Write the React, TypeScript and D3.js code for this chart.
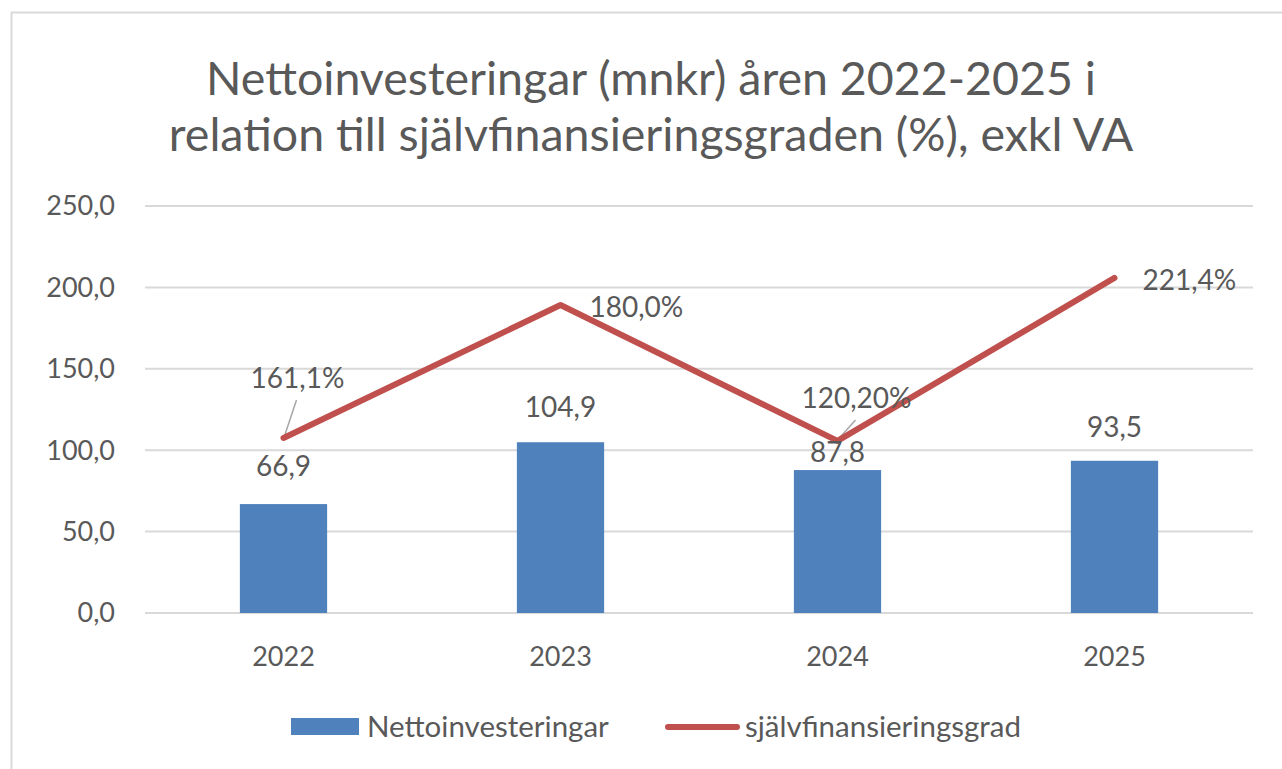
import { scaleBand, scaleLinear, line } from 'd3';

const years = ['2022', '2023', '2024', '2025'];
const nettoinvesteringar = [66.9, 104.9, 87.8, 93.5];
// line is drawn on the primary axis at these heights, the labels are typed text
const sjalvfinansiering = [107.5, 189.2, 105.7, 205.8];
const sjalvLabels = ['161,1%', '180,0%', '120,20%', '221,4%'];
const yTicks = [0, 50, 100, 150, 200, 250];
const titleLines = [
  'Nettoinvesteringar (mnkr) åren 2022-2025 i',
  'relation till självfinansieringsgraden (%), exkl VA',
];
const legendNames = ['Nettoinvesteringar', 'självfinansieringsgrad'];

const width = 1282;
const height = 769;
const margin = { left: 145, right: 29, top: 206, bottom: 156 };

const BLUE = '#4F81BD';
const RED = '#C0504D';
const TEXT = '#595959';
const GRID = '#D9D9D9';
const FONT = 'Lato, "Open Sans", sans-serif';

// label nudges (Excel-ish manual placement)
const barLabelDy = [-38, -35, -18, -34];
const lineLabelOff = [
  { dx: 14, dy: -60, anchor: 'middle', leader: true },
  { dx: 29, dy: 2, anchor: 'start', leader: false },
  { dx: 19, dy: -43, anchor: 'middle', leader: true },
  { dx: 28, dy: 2, anchor: 'start', leader: false },
];

const x = scaleBand().domain(years).range([margin.left, width - margin.right]).padding(0);
const y = scaleLinear().domain([0, 250]).range([height - margin.bottom, margin.top]);

const barW = x.bandwidth() * 0.315;
const cx = (d: string) => (x(d) as number) + x.bandwidth() / 2;

const linePath = line<number>()
  .x((_, i) => cx(years[i]))
  .y((d) => y(d));

const fmt = (v: number) => v.toFixed(1).replace('.', ',');

const App = () => {
  return (
    <div style={{ position: 'absolute', left: 0, top: 0 }}>
      <svg width={width} height={height} style={{ display: 'block', background: '#fff' }}>
        {/* chart border */}
        <path d={`M11.5,${height} V12.5 H${width}`} fill="none" stroke={GRID} strokeWidth={2} />

        {/* title */}
        {titleLines.map((t, i) => (
          <text key={i} x={651} y={95 + i * 56} textAnchor="middle" fontFamily={FONT}
            fontSize={46.5} fill={TEXT}>{t}</text>
        ))}

        {/* gridlines and y ticks */}
        {yTicks.map((t) => (
          <g key={t}>
            <line x1={margin.left} x2={width - margin.right} y1={y(t)} y2={y(t)}
              stroke={GRID} strokeWidth={2} />
            <text x={115} y={y(t)} dy="0.35em" textAnchor="end" fontFamily={FONT}
              fontSize={27} fill={TEXT}>{fmt(t)}</text>
          </g>
        ))}

        {/* bars */}
        {nettoinvesteringar.map((v, i) => (
          <rect key={i} x={cx(years[i]) - barW / 2} y={y(v)} width={barW}
            height={y(0) - y(v)} fill={BLUE} />
        ))}

        {/* x labels */}
        {years.map((d) => (
          <text key={d} x={cx(d)} y={657} dy="0.35em" textAnchor="middle"
            fontFamily={FONT} fontSize={27} fill={TEXT}>{d}</text>
        ))}

        {/* leader lines */}
        {sjalvfinansiering.map((v, i) => {
          const o = lineLabelOff[i];
          if (!o.leader) return null;
          const px = cx(years[i]);
          const py = y(v);
          return (
            <line key={i} x1={px + o.dx - 1} y1={py + o.dy + 22} x2={px + 1} y2={py - 2}
              stroke="#A6A6A6" strokeWidth={1.5} />
          );
        })}

        {/* line */}
        <path d={linePath(sjalvfinansiering) || ''} fill="none" stroke={RED}
          strokeWidth={6} strokeLinejoin="round" strokeLinecap="round" />

        {/* bar labels */}
        {nettoinvesteringar.map((v, i) => (
          <text key={i} x={cx(years[i])} y={y(v) + barLabelDy[i]} dy="0.35em"
            textAnchor="middle" fontFamily={FONT} fontSize={28} fill={TEXT}>{fmt(v)}</text>
        ))}

        {/* line labels */}
        {sjalvfinansiering.map((v, i) => {
          const o = lineLabelOff[i];
          return (
            <text key={i} x={cx(years[i]) + o.dx} y={y(v) + o.dy} dy="0.35em"
              textAnchor={o.anchor as any} fontFamily={FONT} fontSize={28} fill={TEXT}>
              {sjalvLabels[i]}
            </text>
          );
        })}

        {/* legend */}
        <g fontFamily={FONT} fontSize={29.5} fill={TEXT}>
          <rect x={291} y={718} width={68} height={17} fill={BLUE} />
          <text x={367} y={727} dy="0.35em">{legendNames[0]}</text>
          <line x1={668} x2={737} y1={727} y2={727} stroke={RED} strokeWidth={6}
            strokeLinecap="round" />
          <text x={745} y={727} dy="0.35em">{legendNames[1]}</text>
        </g>
      </svg>
    </div>
  );
};

export default App;
